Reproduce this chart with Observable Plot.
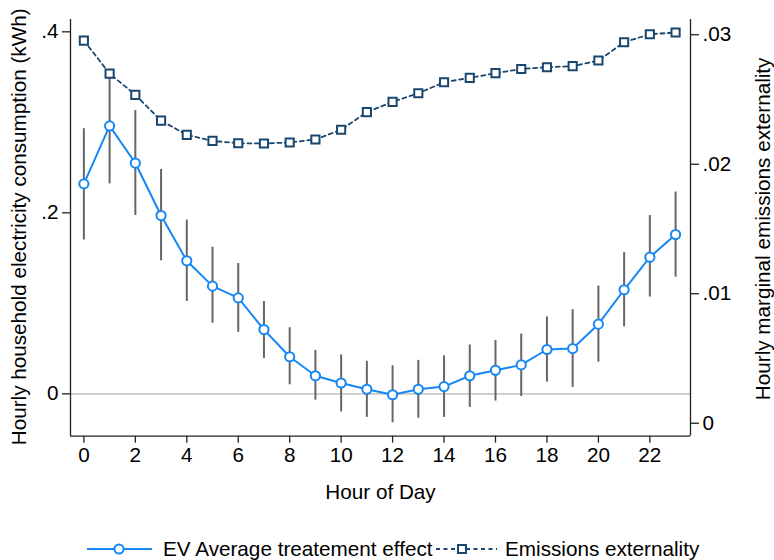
<!DOCTYPE html>
<html>
<head>
<meta charset="utf-8">
<script src="https://cdn.jsdelivr.net/npm/d3@7"></script>
<script src="https://cdn.jsdelivr.net/npm/@observablehq/plot@0.6"></script>
<style>
  html, body { margin: 0; padding: 0; background: #fff; }
  body { width: 774px; height: 560px; overflow: hidden; font-family: "Liberation Sans", Arial, sans-serif; }
  #chart svg { display: block; }
</style>
</head>
<body>
<div id="chart"></div>
<div id="legend"></div>
<script>
// ---- data ----
const hours = [0,1,2,3,4,5,6,7,8,9,10,11,12,13,14,15,16,17,18,19,20,21,22,23];
const evEffect = [0.232,0.296,0.255,0.197,0.147,0.119,0.106,0.071,0.041,0.020,0.012,0.005,-0.001,0.005,0.008,0.020,0.026,0.032,0.049,0.050,0.077,0.115,0.151,0.176];
const evLow    = [0.170,0.232,0.197,0.147,0.102,0.078,0.068,0.039,0.010,-0.007,-0.020,-0.026,-0.032,-0.027,-0.026,-0.015,-0.008,-0.003,0.013,0.007,0.035,0.074,0.107,0.129];
const evHigh   = [0.293,0.349,0.313,0.248,0.192,0.162,0.144,0.102,0.073,0.048,0.043,0.036,0.031,0.037,0.042,0.054,0.059,0.066,0.085,0.093,0.119,0.156,0.197,0.223];
const emissions = [0.02955,0.0270,0.02536,0.02337,0.02227,0.0218,0.02162,0.0216,0.02168,0.02191,0.02266,0.02402,0.02482,0.02548,0.02633,0.02667,0.02703,0.02735,0.02749,0.02757,0.02801,0.02942,0.03004,0.03017];
const xTicks = [0,2,4,6,8,10,12,14,16,18,20,22];
const leftTicks = [0, 0.2, 0.4];
const rightTicks = [0, 0.01, 0.02, 0.03];
const seriesNames = ["EV Average treatement effect", "Emissions externality"];

// ---- helpers ----
// map right-axis (emissions) values onto the left-axis scale
const toLeft = e => 14.309 * e - 0.03249;
const fromLeft = l => (l + 0.03249) / 14.309;
const stataFmt = (v, digits) => {
  const r = +v.toFixed(digits);
  if (Math.abs(r) < 1e-9) return "0";
  return r.toFixed(digits).replace(/^0\./, ".").replace(/^-0\./, "-.").replace(/0+$/, "");
};

const evData = hours.map((h, i) => ({h, v: evEffect[i], lo: evLow[i], hi: evHigh[i]}));
const emData = hours.map((h, i) => ({h, e: emissions[i], l: toLeft(emissions[i])}));

const blue = "#1787f5";
const navy = "#1a476f";
const FS = 20.7;
const W = 774, H = 525;
const mL = 70, mR = 84, mT = 19, mB = H - 435.7;

const chart = Plot.plot({
  width: W, height: H,
  marginLeft: mL, marginRight: mR, marginTop: mT, marginBottom: mB,
  style: {fontFamily: "'Liberation Sans', Arial, sans-serif", fontSize: FS + "px", color: "#000", background: "#fff"},
  x: {domain: [-0.52, 23.58]},
  y: {domain: [-0.0468, 0.4136]},
  marks: [
    Plot.ruleY([0], {stroke: "#c8c8c8", strokeWidth: 1.6}),
    // frame lines
    Plot.ruleX([-0.52], {stroke: "#222", strokeWidth: 1.3}),
    Plot.ruleX([23.58], {stroke: "#222", strokeWidth: 1.3}),
    Plot.ruleY([-0.0468], {stroke: "#222", strokeWidth: 1.3}),
    // axes
    Plot.axisX({ticks: xTicks, tickSize: 7, tickPadding: 4, tickFormat: d => String(d), label: null, fontSize: FS, stroke: "#222", strokeWidth: 1.3}),
    Plot.axisY({ticks: leftTicks, anchor: "left", tickSize: 8, tickPadding: 4, tickFormat: d => stataFmt(d, 1), label: null, fontSize: FS, stroke: "#222", strokeWidth: 1.3}),
    Plot.axisY({ticks: rightTicks.map(toLeft), anchor: "right", tickSize: 8, tickPadding: 4, tickFormat: d => stataFmt(fromLeft(d), 2), label: null, fontSize: FS, stroke: "#222", strokeWidth: 1.3}),
    // axis titles
    Plot.text(["Hour of Day"], {frameAnchor: "bottom", textAnchor: "middle", lineAnchor: "middle", dy: 56, fontSize: FS, fill: "#000"}),
    Plot.text(["Hourly household electricity consumption (kWh)"], {frameAnchor: "left", textAnchor: "middle", lineAnchor: "middle", rotate: -90, dx: -51, dy: -1, fontSize: FS, fill: "#000"}),
    Plot.text(["Hourly marginal emissions externality"], {frameAnchor: "right", textAnchor: "middle", lineAnchor: "middle", rotate: -90, dx: 73, dy: 1, fontSize: FS, fill: "#000"}),
    // confidence intervals
    Plot.ruleX(evData, {x: "h", y1: "lo", y2: "hi", stroke: "#666", strokeWidth: 2}),
    // EV series
    Plot.line(evData, {x: "h", y: "v", stroke: blue, strokeWidth: 2}),
    Plot.dot(evData, {x: "h", y: "v", r: 4.6, fill: "#fff", stroke: blue, strokeWidth: 2}),
    // Emissions series
    Plot.line(emData, {x: "h", y: "l", stroke: navy, strokeWidth: 1.8, strokeDasharray: "4,3.5"}),
    Plot.dot(emData, {x: "h", y: "l", symbol: "square", r: 4.6, fill: "#fff", stroke: navy, strokeWidth: 2})
  ]
});
document.getElementById("chart").appendChild(chart);

// ---- legend below the plot ----
const lg = d3.select("#legend").append("svg").attr("width", W).attr("height", 560 - H)
  .style("display", "block")
  .style("font-family", "'Liberation Sans', Arial, sans-serif");
const ly = 24;
lg.append("line").attr("x1", 87).attr("x2", 152).attr("y1", ly).attr("y2", ly).attr("stroke", blue).attr("stroke-width", 2);
lg.append("circle").attr("cx", 119).attr("cy", ly).attr("r", 4.6).attr("fill", "#fff").attr("stroke", blue).attr("stroke-width", 2);
lg.append("text").attr("x", 163).attr("y", ly).attr("dy", "0.35em").attr("font-size", FS).attr("fill", "#000").text(seriesNames[0]);
lg.append("line").attr("x1", 436).attr("x2", 497).attr("y1", ly).attr("y2", ly).attr("stroke", navy).attr("stroke-width", 1.8).attr("stroke-dasharray", "4,3.5");
lg.append("rect").attr("x", 462 - 4).attr("y", ly - 4).attr("width", 8).attr("height", 8).attr("fill", "#fff").attr("stroke", navy).attr("stroke-width", 2);
lg.append("text").attr("x", 505).attr("y", ly).attr("dy", "0.35em").attr("font-size", FS).attr("fill", "#000").text(seriesNames[1]);
</script>
</body>
</html>
